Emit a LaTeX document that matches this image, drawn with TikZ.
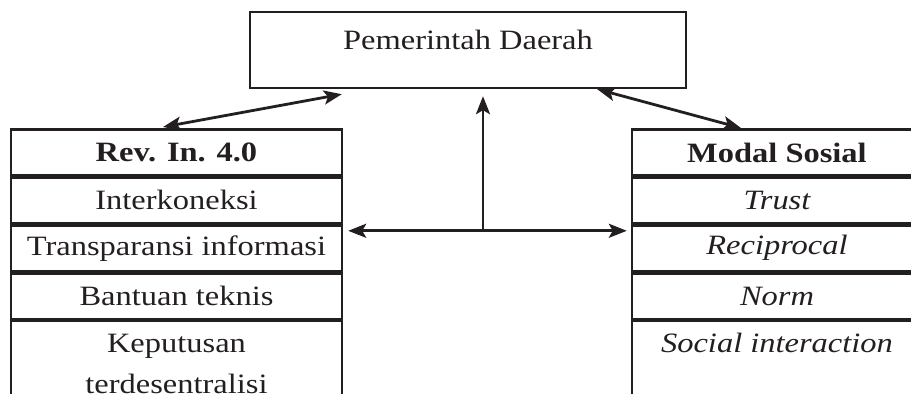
\documentclass[tikz,border=0pt]{standalone}
\usepackage{fontspec}
\setmainfont{Liberation Serif}[FakeStretch=1.16]
\usetikzlibrary{arrows.meta,calc}
\definecolor{ink}{RGB}{35,31,32}
\newcommand{\cellfont}{\fontsize{14}{21}\selectfont}
\tikzset{
  >={Stealth[length=9pt,width=7pt,inset=2pt]},
  txt/.style={font=\cellfont, text=ink, inner sep=0pt},
  box/.style={draw=ink, line width=1.2pt, inner sep=0pt},
  cell/.style={box, txt, anchor=north, minimum height=22.75pt},
  lcell/.style={cell, minimum width=165.5pt},
  rcell/.style={cell, minimum width=145pt},
  conn/.style={draw=ink, line width=1.4pt},
}
\begin{document}
\begin{tikzpicture}[x=0.5pt,y=-0.5pt]
\clip (0,0) rectangle (911,394);

% top box
\node[box, minimum width=218pt, minimum height=38pt] (gov) at (468,50) {};
\node[txt, anchor=base] (govtext) at (468,50) {Pemerintah Daerah};

% left table
\node[lcell, font=\cellfont\bfseries] (lhead) at (176.5,128.5) {Rev. In. 4.0};
\node[lcell] (l1) at (lhead.south) {Interkoneksi};
\node[lcell] (l2) at (l1.south) {Transparansi informasi};
\node[lcell] (l3) at (l2.south) {Bantuan teknis};
\node[lcell, minimum height=44pt] (l4) at (l3.south) {};
\node[txt, anchor=base] (l4a) at ($(l4.north)+(0,32.5)$) {Keputusan};
\node[txt, anchor=base] (l4b) at ($(l4.north)+(0,73)$) {terdesentralisi};

% right table
\node[rcell, font=\cellfont\bfseries] (rhead) at (777,128.5) {Modal Sosial};
\node[rcell] (r1) at (rhead.south) {\itshape Trust};
\node[rcell] (r2) at (r1.south) {\itshape Reciprocal};
\node[rcell] (r3) at (r2.south) {\itshape Norm};
\node[rcell, minimum height=44pt] (r4) at (r3.south) {};
\node[txt, anchor=base, font=\cellfont\itshape] (r4a) at ($(r4.north)+(0,32.5)$) {Social interaction};

% connectors
\draw[conn,<->] ($(lhead.north)+(-13.5,-1.5)$) -- ($(gov.south west)+(93,5)$);
\draw[conn,<->] ($(gov.south east)+(-90,0)$) -- ($(rhead.north)+(-36,-0.5)$);
\coordinate (hub) at (483,230);
\draw[conn,->] (hub) -- ($(gov.south -| hub)+(0,7)$);
\draw[conn,<->] ($(l2.north east)+(5,6.5)$) -- ($(r2.north west)+(-4,6.5)$);
\end{tikzpicture}
\end{document}
